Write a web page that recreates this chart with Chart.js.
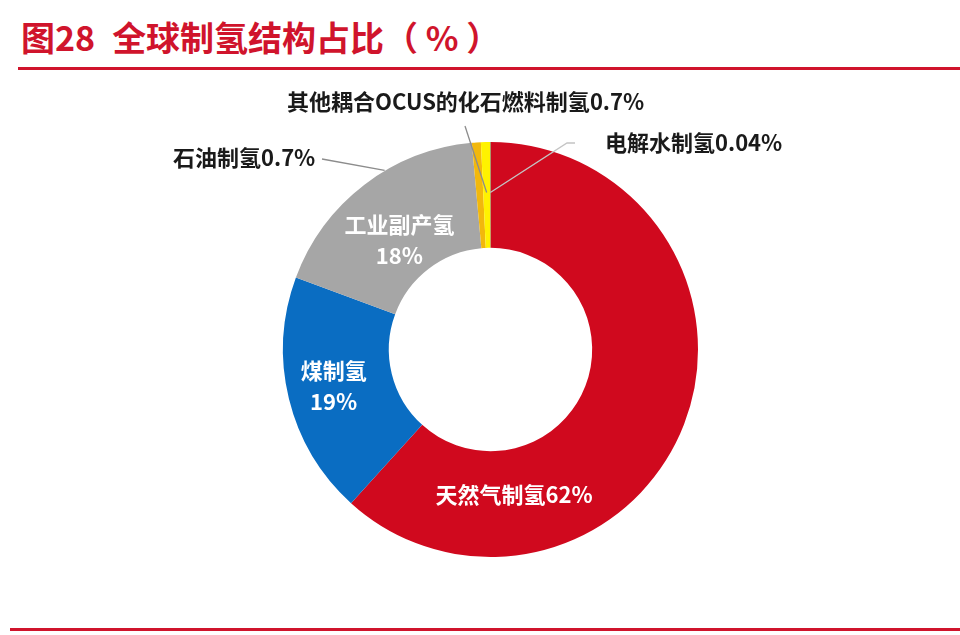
<!DOCTYPE html>
<html>
<head>
<meta charset="utf-8">
<script src="https://cdn.jsdelivr.net/npm/chart.js@4.4.1/dist/chart.umd.min.js"></script>
<style>
  html, body { margin: 0; padding: 0; background: #fff; }
  #wrap { position: relative; width: 960px; height: 635px; overflow: hidden; background: #fff; }
  #title {
    position: absolute; left: 21px; top: 14px;
    font-family: "Noto Sans CJK SC", sans-serif; font-weight: bold;
    font-size: 34px; line-height: 46px; color: #D0142C; white-space: nowrap;
  }
  #title .gap { display: inline-block; width: 17px; }
  .rule { position: absolute; height: 3px; background: #D0142C; right: 0; }
  #topRule { left: 18px; top: 67px; }
  #bottomRule { left: 10px; top: 628px; }
  canvas { position: absolute; left: 0; top: 0; }
</style>
</head>
<body>
<div id="wrap">
  <div id="title">图28<span class="gap"></span>全球制氢结构占比（ % ）</div>
  <div class="rule" id="topRule"></div>
  <div class="rule" id="bottomRule"></div>
  <canvas id="pie" width="960" height="635"></canvas>
</div>
<script>
// data, clockwise from 12 o'clock
const CATEGORIES = ["天然气制氢", "煤制氢", "工业副产氢", "石油制氢", "其他耦合OCUS的化石燃料制氢", "电解水制氢"];
const SHARES = [62, 19, 18, 0.7, 0.7, 0.04];
const SHARE_TEXT = ["62%", "19%", "18%", "0.7%", "0.7%", "0.04%"];
const COLORS = ["#D0091E", "#0A6DC2", "#A6A6A6", "#F2B80C", "#FFF200", "#70AD47"];

// label placement (polar around the ring centre, degrees clockwise from top)
const INNER = {
  0: { angle: 170.8, radius: 147, lines: [CATEGORIES[0] + SHARE_TEXT[0]] },
  1: { angle: 256.9, radius: 161, lines: [CATEGORIES[1], SHARE_TEXT[1]] },
  2: { angle: 320.1, radius: 142, lines: [CATEGORIES[2], SHARE_TEXT[2]] }
};
const OUTER = {
  3: { x: 173, y: 158, size: 22, from: [322, 159], angle: 329.4, radius: 208, color: "#8c8c8c" },
  4: { x: 287, y: 102, size: 22, from: [465, 126], radius: 157, color: "#8c8c8c" },
  5: { x: 605, y: 143, size: 22, from: [575, 143], elbow: [567, 143], radius: 157, color: "#c4c4c4" }
};

const FONT = '"Noto Sans CJK SC", "Noto Sans", sans-serif';

function polar(arc, deg, r) {
  const a = (deg - 90) * Math.PI / 180;
  return [arc.x + Math.cos(a) * r, arc.y + Math.sin(a) * r];
}

const labelPlugin = {
  id: 'sliceLabels',
  afterDatasetsDraw(chart) {
    const ctx = chart.ctx;
    const arcs = chart.getDatasetMeta(0).data;
    ctx.save();
    ctx.textBaseline = 'middle';

    // leader lines + outer labels
    Object.keys(OUTER).forEach(k => {
      const i = Number(k);
      const cfg = OUTER[i];
      const arc = arcs[i];
      const mid = ((arc.startAngle + arc.endAngle) / 2) * 180 / Math.PI + 90;
      const end = polar(arc, cfg.angle !== undefined ? cfg.angle : mid, cfg.radius);
      ctx.strokeStyle = cfg.color;
      ctx.lineWidth = 1.3;
      ctx.beginPath();
      ctx.moveTo(cfg.from[0], cfg.from[1]);
      if (cfg.elbow) ctx.lineTo(cfg.elbow[0], cfg.elbow[1]);
      ctx.lineTo(end[0], end[1]);
      ctx.stroke();

      ctx.fillStyle = '#1a1a1a';
      ctx.textAlign = 'left';
      ctx.font = 'bold ' + cfg.size + 'px ' + FONT;
      ctx.fillText(CATEGORIES[i] + SHARE_TEXT[i], cfg.x, cfg.y);
    });

    // labels inside the ring
    ctx.fillStyle = '#ffffff';
    ctx.textAlign = 'center';
    ctx.font = 'bold 22px ' + FONT;
    Object.keys(INNER).forEach(k => {
      const i = Number(k);
      const cfg = INNER[i];
      const p = polar(arcs[i], cfg.angle, cfg.radius);
      const lh = 31;
      const top = p[1] - (cfg.lines.length - 1) * lh / 2;
      cfg.lines.forEach((t, j) => ctx.fillText(t, p[0], top + j * lh));
    });
    ctx.restore();
  }
};

new Chart(document.getElementById('pie'), {
  type: 'doughnut',
  data: {
    labels: CATEGORIES,
    datasets: [{
      data: SHARES,
      backgroundColor: COLORS,
      borderWidth: 0
    }]
  },
  options: {
    responsive: false,
    animation: false,
    cutout: '49%',
    rotation: 0,
    layout: { padding: { left: 283, right: 262, top: 142, bottom: 78 } },
    plugins: {
      legend: { display: false },
      tooltip: { enabled: false }
    },
    events: []
  },
  plugins: [labelPlugin]
});
</script>
</body>
</html>
